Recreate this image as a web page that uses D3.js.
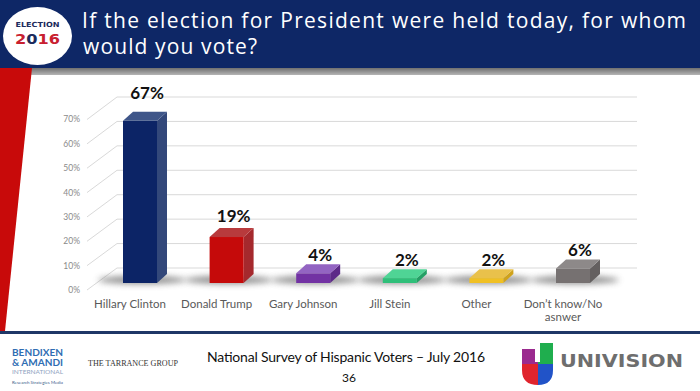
<!DOCTYPE html>
<html><head><meta charset="utf-8">
<script src="https://cdnjs.cloudflare.com/ajax/libs/d3/7.8.5/d3.min.js"></script>
<style>html,body{margin:0;padding:0;background:#fff;}svg{display:block;}</style>
</head><body>
<script>
const categories = ["Hillary Clinton","Donald Trump","Gary Johnson","Jill Stein","Other","Don’t know/No asnwer"];
const values = [67,19,4,2,2,6];
const tickValues = [0,10,20,30,40,50,60,70];
const tickLabels = ["0%","10%","20%","30%","40%","50%","60%","70%"];
const frontColors = ["#0c2466","#c50a0a","#7232a3","#2fbf79","#f0c023","#767171"];
const sideColors  = ["#33487a","#a5292d","#5d2a88","#24a065","#cfa21c","#646060"];
const topColors   = ["#3f5689","#b83a3c","#9364c2","#4fd495","#e9c14b","#8d8989"];
const titleLines = ["If the election for President were held today, for whom","would you vote?"];
const footerText = "National Survey of Hispanic Voters – July 2016";
const pageNumber = "36";

const W = 700, H = 391;
const svg = d3.select("body").append("svg").attr("width", W).attr("height", H);
const defs = svg.append("defs");
defs.append("filter").attr("id","blur").attr("x","-50%").attr("y","-200%").attr("width","200%").attr("height","500%")
  .append("feGaussianBlur").attr("stdDeviation", 3);
const g1 = defs.append("linearGradient").attr("id","strip").attr("x1",0).attr("x2",0).attr("y1",0).attr("y2",1);
g1.append("stop").attr("offset","0").attr("stop-color","#6f6f6f");
g1.append("stop").attr("offset","1").attr("stop-color","#b5b5b5");

// header
svg.append("rect").attr("x",0).attr("y",0).attr("width",W).attr("height",68).attr("fill","#0e2766");
svg.append("rect").attr("x",0).attr("y",68).attr("width",W).attr("height",7).attr("fill","url(#strip)");
// red diagonal stripe
svg.append("path").attr("d","M0,68 L32,68 L5,331 L0,331 Z").attr("fill","#c80a0a");

// logo
svg.append("ellipse").attr("cx",37.5).attr("cy",36).attr("rx",34.5).attr("ry",29).attr("fill","#fff");
svg.append("text").attr("x",37.5).attr("y",26.5).attr("text-anchor","middle")
  .attr("font-family","DejaVu Sans, sans-serif").attr("font-weight","bold").attr("font-size",7)
  .attr("fill","#1b2a5c").attr("textLength",44).attr("lengthAdjust","spacingAndGlyphs").text("ELECTION");
const yr = svg.append("text").attr("x",37.5).attr("y",44).attr("text-anchor","middle")
  .attr("font-family","DejaVu Sans, sans-serif").attr("font-weight","bold").attr("font-size",14)
  .attr("textLength",45).attr("lengthAdjust","spacingAndGlyphs");
yr.append("tspan").attr("fill","#c8202f").text("2");
yr.append("tspan").attr("fill","#1b2a5c").text("0");
yr.append("tspan").attr("fill","#c8202f").text("16");

// title
svg.append("text").attr("x",82).attr("y",27.5).attr("fill","#fff")
  .attr("font-family","'Open Sans', sans-serif").attr("font-size",21)
  .attr("textLength",604).attr("lengthAdjust","spacing").text(titleLines[0]);
svg.append("text").attr("x",83).attr("y",54).attr("fill","#fff")
  .attr("font-family","'Open Sans', sans-serif").attr("font-size",21)
  .attr("textLength",174).attr("lengthAdjust","spacing").text(titleLines[1]);

// scales
const x = d3.scalePoint().domain(categories).range([140, 573]);
const yFront = d3.scaleLinear().domain([0,70]).range([290, 119.5]);
const yBack  = d3.scaleLinear().domain([0,70]).range([268, 97]);
const yBar   = d3.scaleLinear().domain([0,70]).range([283, 113.6]);
const bw = 34, dx = 10, dy = 9;

// gridlines
const grid = svg.append("g").attr("stroke","#d9d9d9").attr("stroke-width",1).attr("fill","none");
tickValues.forEach(v => {
  grid.append("line").attr("x1",87).attr("y1",yFront(v)).attr("x2",117).attr("y2",yBack(v));
  grid.append("line").attr("x1",117).attr("y1",yBack(v)).attr("x2",637).attr("y2",yBack(v));
});
// y tick labels
svg.append("g").selectAll("text").data(tickValues).join("text")
  .attr("x",80).attr("y",d=>yFront(d)).attr("dy","0.35em").attr("text-anchor","end")
  .attr("font-family","Lato, 'Open Sans', sans-serif").attr("font-size",8.5).attr("fill","#8a8a8a")
  .text((d,i)=>tickLabels[i]);

// shadows
svg.append("g").selectAll("ellipse").data(categories).join("ellipse")
  .attr("cx",d=>x(d)+2).attr("cy",yBar(0)-3).attr("rx",44).attr("ry",4)
  .attr("fill","#6a6a6a").attr("opacity",0.75).attr("filter","url(#blur)");

// bars
const bars = svg.append("g").selectAll("g").data(categories).join("g");
bars.append("path").attr("fill",(d,i)=>sideColors[i]).attr("d",(d,i)=>{
  const x1 = x(d)+bw/2, t = yBar(values[i]), b = yBar(0);
  return `M${x1},${t} L${x1+dx},${t-dy} L${x1+dx},${b-dy} L${x1},${b} Z`;
});
bars.append("path").attr("fill",(d,i)=>topColors[i]).attr("d",(d,i)=>{
  const x0 = x(d)-bw/2, x1 = x(d)+bw/2, t = yBar(values[i]);
  return `M${x0},${t} L${x0+dx},${t-dy} L${x1+dx},${t-dy} L${x1},${t} Z`;
});
bars.append("rect").attr("fill",(d,i)=>frontColors[i])
  .attr("x",d=>x(d)-bw/2).attr("y",(d,i)=>yBar(values[i]))
  .attr("width",bw).attr("height",(d,i)=>yBar(0)-yBar(values[i]));

// value labels
svg.append("g").selectAll("text").data(categories).join("text")
  .attr("x",d=>x(d)+7).attr("y",(d,i)=>yBar(values[i]) - 12 - values[i]*0.14)
  .attr("text-anchor","middle").attr("font-family","Lato, 'Open Sans', sans-serif")
  .attr("font-weight","bold").attr("font-size",17).attr("fill","#111")
  .text((d,i)=>values[i]+"%");

// category labels (wrapped at "/No ")
const catLines = [];
categories.forEach(d => {
  const k = d.indexOf("/No ");
  const parts = k >= 0 ? [d.slice(0, k+3), d.slice(k+4)] : [d];
  parts.forEach((p, j) => catLines.push({cat: d, text: p, line: j}));
});
svg.append("g").selectAll("text").data(catLines).join("text")
  .attr("x",d=>x(d.cat)-10).attr("y",d=>308 + d.line*13).attr("text-anchor","middle")
  .attr("font-family","Lato, 'Open Sans', sans-serif").attr("font-size",11.5).attr("fill","#595959")
  .text(d=>d.text);

// footer
svg.append("rect").attr("x",0).attr("y",331).attr("width",W).attr("height",3).attr("fill","#1f3767");
svg.append("text").attr("x",207).attr("y",362).attr("font-family","Lato, 'Open Sans', sans-serif")
  .attr("font-size",14).attr("fill","#111").attr("textLength",278).attr("lengthAdjust","spacing").text(footerText);
svg.append("text").attr("x",349).attr("y",382).attr("text-anchor","middle").attr("font-family","Lato, 'Open Sans', sans-serif")
  .attr("font-size",12).attr("fill","#111").text(pageNumber);

// Bendixen logo
const bl = svg.append("g").attr("font-family","Lato, 'Open Sans', sans-serif");
bl.append("text").attr("x",12).attr("y",356).attr("font-size",8.5).attr("font-weight","bold").attr("fill","#2f6db3")
  .attr("textLength",51).attr("lengthAdjust","spacingAndGlyphs").text("BENDIXEN");
bl.append("text").attr("x",12).attr("y",366).attr("font-size",8.5).attr("font-weight","bold").attr("fill","#2f6db3")
  .attr("textLength",51).attr("lengthAdjust","spacingAndGlyphs").text("& AMANDI");
bl.append("text").attr("x",12).attr("y",374).attr("font-size",5.5).attr("fill","#8fa3c0")
  .attr("textLength",51).attr("lengthAdjust","spacingAndGlyphs").text("INTERNATIONAL");
bl.append("text").attr("x",12).attr("y",384).attr("font-size",4).attr("fill","#3a5a8a")
  .attr("textLength",51).attr("lengthAdjust","spacingAndGlyphs").text("Research Strategies Media");
svg.append("text").attr("x",88).attr("y",366).attr("font-family","'Liberation Serif', serif").attr("font-size",8)
  .attr("fill","#333").attr("textLength",90).attr("lengthAdjust","spacingAndGlyphs").text("THE TARRANCE GROUP");

// Univision logo
const ul = svg.append("g");
const clip = defs.append("clipPath").attr("id","uclip");
clip.append("path").attr("d","M522,349 L535,349 L535,362 L540,362 L540,343 L553,343 L553,370 Q553,385 538,385 Q522,385 522,370 Z");
const uq = ul.append("g").attr("clip-path","url(#uclip)");
uq.append("rect").attr("x",520).attr("y",340).attr("width",18).attr("height",24).attr("fill","#9b2a8f");
uq.append("rect").attr("x",538).attr("y",340).attr("width",18).attr("height",24).attr("fill","#1fae4e");
uq.append("rect").attr("x",520).attr("y",364).attr("width",18).attr("height",24).attr("fill","#e0242d");
uq.append("rect").attr("x",538).attr("y",364).attr("width",18).attr("height",24).attr("fill","#2153c8");
svg.append("text").attr("x",560).attr("y",367).attr("font-family","'DejaVu Sans', sans-serif").attr("font-weight","bold")
  .attr("font-size",18).attr("fill","#6e6e6e").attr("textLength",123).attr("lengthAdjust","spacingAndGlyphs").text("UNIVISION");
</script>
</body></html>
